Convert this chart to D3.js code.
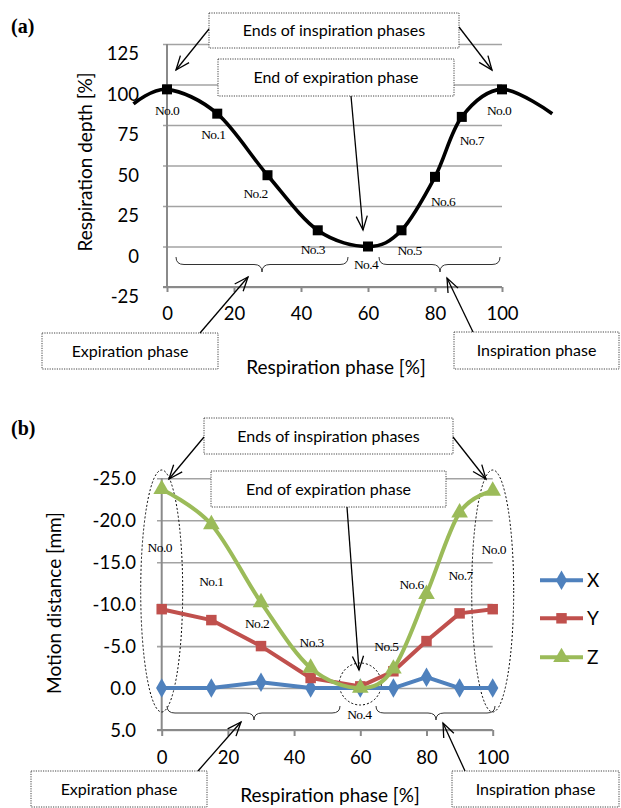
<!DOCTYPE html>
<html><head><meta charset="utf-8">
<script src="https://cdn.jsdelivr.net/npm/d3@7"></script>
<style>
body{margin:0;background:#fff}
svg{display:block}
text{font-family:Lato,"Open Sans",sans-serif;fill:#000}
</style>
</head><body>
<svg id="c" width="621" height="808"></svg>
<script>
// ---------- data: chart (a) ----------
const phaseA = [0, 15, 30, 45, 60, 70, 80, 88, 100];
const depthA = [97, 82, 44, 10, 0, 10, 43, 80, 97];
const curvePhaseA = [-10, 0, 15, 30, 45, 60, 70, 80, 88, 100, 115];
const curveDepthA = [88, 97, 82, 44, 10, 0, 10, 43, 80, 97, 82];
const pointLabels = ["No.0", "No.1", "No.2", "No.3", "No.4", "No.5", "No.6", "No.7", "No.0"];
const yTicksA = [-25, 0, 25, 50, 75, 100, 125];
const xTicks = [0, 20, 40, 60, 80, 100];

// ---------- data: chart (b) ----------
const phaseB = [0, 15, 30, 45, 60, 70, 80, 90, 100];
const seriesNames = ["X", "Y", "Z"];
const motionX = [0, 0, -0.7, 0, 0, 0, -1.3, 0, 0];
const motionY = [-9.4, -8.1, -5.0, -1.2, -0.2, -2.0, -5.6, -8.9, -9.4];
const motionZ = [-23.7, -19.5, -10.2, -2.4, 0, -2.3, -11.2, -20.9, -23.5];
const yTicksB = [-25, -20, -15, -10, -5, 0, 5];

// ---------- text ----------
const txtEndsInsp = "Ends of inspiration phases";
const txtEndExp = "End of expiration phase";
const txtExpPhase = "Expiration phase";
const txtInspPhase = "Inspiration phase";

// ---------- layout ----------
const labelOffA = [[0,21],[-4,21],[-12,18],[-5,19],[-2,18],[8,20],[8,24],[10,23],[-3,21]];
const labelPosB = [[-2,547],[0,581],[-4,623],[1,642],[-1,714],[-7,646],[-15,584],[1,575],[1,549]];
const colors = {X:"#4f81bd", Y:"#c0504d", Z:"#9bbb59"};
const gridColor = "#a3a3a3", axisColor = "#8a8a8a";
const tickFs = "18.5px", titleFs = "19px", boxFs = 16;

const svg = d3.select("#c");

function arrow(g, x1, y1, x2, y2) {
  g.append("line").attr("x1",x1).attr("y1",y1).attr("x2",x2).attr("y2",y2)
    .attr("stroke","#000").attr("stroke-width",1.3);
  const a = Math.atan2(y2-y1, x2-x1), L = 15, s = 0.38;
  const p1 = [x2 - L*Math.cos(a-s), y2 - L*Math.sin(a-s)];
  const p2 = [x2 - L*Math.cos(a+s), y2 - L*Math.sin(a+s)];
  g.append("path").attr("d", `M${p1[0]},${p1[1]}L${x2},${y2}L${p2[0]},${p2[1]}`)
    .attr("fill","none").attr("stroke","#000").attr("stroke-width",1.3);
}
function box(g, x1, y1, x2, y2, txt, fs) {
  g.append("rect").attr("x",x1).attr("y",y1).attr("width",x2-x1).attr("height",y2-y1)
    .attr("fill","#fff").attr("stroke","#444").attr("stroke-width",1).attr("stroke-dasharray","1.2,1.2");
  g.append("text").attr("x",(x1+x2)/2).attr("y",(y1+y2)/2).attr("dy","0.35em")
    .attr("text-anchor","middle").style("font-size",fs+"px").text(txt);
}
function brace(g, x1, x2, tip, y0, h) {
  const m = y0 + h/2, q = 8;
  const d = `M${x1},${y0}Q${x1},${m} ${x1+q},${m}L${tip-q},${m}Q${tip},${m} ${tip},${y0+h}` +
            `Q${tip},${m} ${tip+q},${m}L${x2-q},${m}Q${x2},${m} ${x2},${y0}`;
  g.append("path").attr("d",d).attr("fill","none").attr("stroke","#333").attr("stroke-width",1);
}
function nolabel(g, x, y, t) {
  g.append("text").attr("x",x).attr("y",y).attr("dy","0.35em").attr("text-anchor","middle")
    .style("font-family","'Liberation Serif','DejaVu Serif',serif").style("font-size","13.5px")
    .style("letter-spacing","-0.6px").text(t);
}

// =============== chart (a) ===============
{
  const g = svg.append("g");
  const x = d3.scaleLinear().domain([0,100]).range([167,502]);
  const y = d3.scaleLinear().domain([-25,125]).range([287,44]);

  g.append("text").attr("x",11).attr("y",33).style("font-family","'Liberation Serif',serif")
    .style("font-weight","bold").style("font-size","20px").text("(a)");

  const ga = g.append("g").attr("transform","translate(163,0)")
    .call(d3.axisLeft(y).tickValues(yTicksA).tickSize(-(502-163)).tickPadding(24).tickFormat(d => String(d)));
  ga.select(".domain").remove();
  ga.selectAll(".tick line").attr("stroke",gridColor).attr("stroke-width",1.6);
  ga.selectAll(".tick text").attr("dy","0.35em").attr("y",9.5)
    .style("font-family","Lato").style("font-size",tickFs).attr("fill","#000");
  g.append("line").attr("x1",x(0)).attr("x2",x(0)).attr("y1",y(125)).attr("y2",y(-25))
    .attr("stroke",axisColor).attr("stroke-width",2);
  const gx = g.append("g").attr("transform",`translate(0,${y(-25)})`)
    .call(d3.axisBottom(x).tickValues(xTicks).tickSize(5).tickPadding(15).tickFormat(d => String(d)));
  gx.select(".domain").attr("stroke",axisColor).attr("stroke-width",2.2).attr("d",`M163,0H${x(100)}`);
  gx.selectAll(".tick line").attr("stroke",axisColor).attr("stroke-width",2);
  gx.selectAll(".tick text").style("font-family","Lato").style("font-size",tickFs).attr("fill","#000");

  g.append("text").attr("transform","translate(92,162) rotate(-90)").attr("text-anchor","middle")
    .style("font-size",titleFs).text("Respiration depth [%]");
  g.append("text").attr("x",336).attr("y",374).attr("text-anchor","middle")
    .style("font-size",titleFs).text("Respiration phase [%]");

  const pts = curvePhaseA.map((p,i)=>[p, curveDepthA[i]]);
  g.append("path").datum(pts)
    .attr("d", d3.line().x(d=>x(d[0])).y(d=>y(d[1])).curve(d3.curveCardinal.tension(0)))
    .attr("fill","none").attr("stroke","#000").attr("stroke-width",3.6);
  g.selectAll("rect.mk").data(phaseA).enter().append("rect").attr("class","mk")
    .attr("x",(d)=>x(d)-5).attr("y",(d,i)=>y(depthA[i])-5).attr("width",10).attr("height",10)
    .attr("fill","#000");
  phaseA.forEach((p,i)=>nolabel(g, x(p)+labelOffA[i][0], y(depthA[i])+labelOffA[i][1], pointLabels[i]));

  brace(g, 176, 348, 262, 257, 15);
  brace(g, 379, 500, 440, 257, 15);

  box(g, 209, 13, 459, 48, txtEndsInsp, boxFs);
  arrow(g, 209, 29, 176, 70);
  arrow(g, 459, 27, 492, 70);
  box(g, 218, 59, 454, 96, txtEndExp, boxFs);
  arrow(g, 351, 96, 363, 230);
  box(g, 42, 333, 218, 369, txtExpPhase, boxFs);
  arrow(g, 200, 333, 248, 277);
  box(g, 454, 332, 619, 369, txtInspPhase, boxFs);
  arrow(g, 473, 332, 447, 278);
}

// =============== chart (b) ===============
{
  const g = svg.append("g");
  const x = d3.scaleLinear().domain([0,100]).range([161.7,492.7]);
  const y = d3.scaleLinear().domain([-25,5]).range([478.3,730]);

  g.append("text").attr("x",11).attr("y",435).style("font-family","'Liberation Serif',serif")
    .style("font-weight","bold").style("font-size","20px").text("(b)");

  const ga = g.append("g").attr("transform","translate(157,0)")
    .call(d3.axisLeft(y).tickValues(yTicksB).tickSize(-(492.7-157)).tickPadding(21).tickFormat(d => d.toFixed(1)));
  ga.select(".domain").remove();
  ga.selectAll(".tick line").attr("stroke",gridColor).attr("stroke-width",1.6);
  ga.selectAll(".tick text").attr("dy","0.35em")
    .style("font-family","Lato").style("font-size",tickFs).attr("fill","#000");
  g.append("line").attr("x1",x(0)).attr("x2",x(0)).attr("y1",y(-25)).attr("y2",y(5))
    .attr("stroke",axisColor).attr("stroke-width",2);
  const gx = g.append("g").attr("transform",`translate(0,${y(5)})`)
    .call(d3.axisBottom(x).tickValues(xTicks).tickSize(6).tickPadding(15).tickFormat(d => String(d)));
  gx.select(".domain").attr("stroke",axisColor).attr("stroke-width",2.2).attr("d",`M157,0H${x(100)}`);
  gx.selectAll(".tick line").attr("stroke",axisColor).attr("stroke-width",2);
  gx.selectAll(".tick text").style("font-family","Lato").style("font-size",tickFs).attr("fill","#000");

  g.append("text").attr("transform","translate(61,603) rotate(-90)").attr("text-anchor","middle")
    .style("font-size",titleFs).text("Motion distance [mm]");
  g.append("text").attr("x",330).attr("y",802).attr("text-anchor","middle")
    .style("font-size",titleFs).text("Respiration phase [%]");

  g.append("ellipse").attr("cx",x(0)).attr("cy",591).attr("rx",21).attr("ry",121)
    .attr("fill","none").attr("stroke","#000").attr("stroke-width",1).attr("stroke-dasharray","2,2");
  g.append("ellipse").attr("cx",x(100)).attr("cy",591).attr("rx",21).attr("ry",121)
    .attr("fill","none").attr("stroke","#000").attr("stroke-width",1).attr("stroke-dasharray","2,2");
  g.append("circle").attr("cx",x(60)).attr("cy",684).attr("r",21)
    .attr("fill","none").attr("stroke","#000").attr("stroke-width",1).attr("stroke-dasharray","2,2");

  const data = {X: motionX, Y: motionY, Z: motionZ};
  const sym = {X: d3.symbolDiamond, Y: d3.symbolSquare, Z: d3.symbolTriangle};
  const symSize = {X: 110, Y: 110, Z: 120};
  seriesNames.forEach(name => {
    const vals = data[name];
    const line = d3.line().x((d,i)=>x(phaseB[i])).y(d=>y(d));
    if (name === "Z") line.curve(d3.curveCardinal.tension(0));
    g.append("path").datum(vals).attr("d", line).attr("fill","none")
      .attr("stroke", colors[name]).attr("stroke-width",4).attr("stroke-linejoin","round");
    g.selectAll(null).data(vals).enter().append("path")
      .attr("transform",(d,i)=>`translate(${x(phaseB[i])},${y(d)})`)
      .attr("d", d3.symbol().type(sym[name]).size(symSize[name]))
      .attr("fill", colors[name]);
  });

  phaseB.forEach((p,i)=>nolabel(g, x(p)+labelPosB[i][0], labelPosB[i][1], pointLabels[i]));

  seriesNames.forEach((name,i) => {
    const ly = [580.3, 618.3, 657.3][i];
    g.append("line").attr("x1",540).attr("x2",583).attr("y1",ly).attr("y2",ly)
      .attr("stroke",colors[name]).attr("stroke-width",4);
    g.append("path").attr("transform",`translate(561.5,${ly})`)
      .attr("d", d3.symbol().type(sym[name]).size(symSize[name])).attr("fill",colors[name]);
    g.append("text").attr("x",587).attr("y",ly).attr("dy","0.35em").style("font-size","19px").text(name);
  });

  brace(g, 167, 340, 254, 706, 14);
  brace(g, 376, 495, 436, 706, 14);

  box(g, 204, 418, 453, 454, txtEndsInsp, boxFs);
  arrow(g, 204, 437, 169, 479);
  arrow(g, 453, 437, 486, 479);
  box(g, 211, 471, 446, 507, txtEndExp, boxFs);
  arrow(g, 347, 507, 359, 670);
  box(g, 31, 771, 207, 807, txtExpPhase, boxFs);
  arrow(g, 198, 771, 241, 722);
  box(g, 452, 771, 619, 807, txtInspPhase, boxFs);
  arrow(g, 465, 771, 443, 723);
}
</script>
</body></html>
